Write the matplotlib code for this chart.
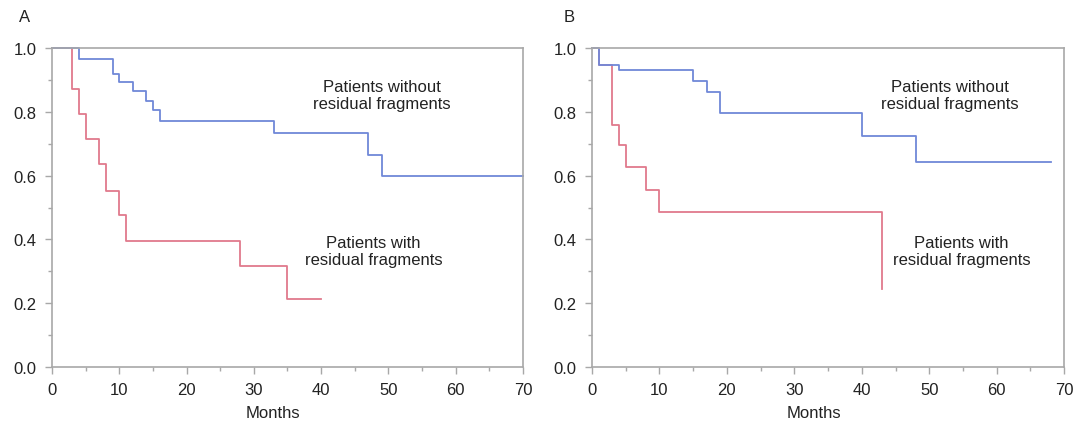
import matplotlib
matplotlib.use("Agg")
import matplotlib.pyplot as plt
from matplotlib.ticker import MultipleLocator

plt.rcParams["font.family"] = ["Liberation Sans", "DejaVu Sans"]

# panel A - Kaplan-Meier estimates
a_without_t = [0, 4, 9, 10, 12, 14, 15, 16, 33, 47, 49, 70]
a_without_s = [1.0, 0.966, 0.918, 0.892, 0.866, 0.835, 0.805, 0.772, 0.733, 0.665, 0.600, 0.600]
a_with_t = [0, 3, 4, 5, 7, 8, 10, 11, 28, 35, 40]
a_with_s = [1.0, 0.873, 0.793, 0.715, 0.637, 0.553, 0.476, 0.395, 0.318, 0.213, 0.213]

# panel B
b_without_t = [0, 1, 4, 15, 17, 19, 40, 48, 68]
b_without_s = [1.0, 0.947, 0.930, 0.897, 0.861, 0.795, 0.724, 0.644, 0.644]
b_with_t = [0, 1, 3, 4, 5, 8, 10, 43]
b_with_s = [1.0, 0.947, 0.759, 0.697, 0.626, 0.556, 0.486, 0.245]

BLUE = "#7088d8"
RED = "#e07a8c"
GRAY = "#a8a8a8"
TXT = "#222222"

fig = plt.figure(figsize=(10.79, 4.27), dpi=100)
axA = fig.add_axes([0.0482, 0.1382, 0.4365, 0.747])
axB = fig.add_axes([0.5487, 0.1382, 0.4375, 0.747])


def style_axis(ax):
    ax.set_xlim(0, 70)
    ax.set_ylim(0, 1.0)
    ax.xaxis.set_major_locator(MultipleLocator(10))
    ax.xaxis.set_minor_locator(MultipleLocator(5))
    ax.yaxis.set_major_locator(MultipleLocator(0.2))
    ax.yaxis.set_minor_locator(MultipleLocator(0.1))
    ax.yaxis.set_major_formatter(matplotlib.ticker.FormatStrFormatter("%.1f"))
    for sp in ax.spines.values():
        sp.set_color(GRAY)
        sp.set_linewidth(1.2)
    ax.tick_params(which="major", length=5, width=1, color=GRAY,
                   labelsize=12, labelcolor=TXT, pad=6)
    ax.tick_params(which="minor", length=3, width=1, color=GRAY)
    ax.set_xlabel("Months", fontsize=12, color=TXT)
    ax.xaxis.set_label_coords(0.47, -0.12)


for ax, t1, s1, t2, s2, pos_wo, pos_w, tag in [
    (axA, a_with_t, a_with_s, a_without_t, a_without_s, (49, 0.853), (47.8, 0.364), "A"),
    (axB, b_with_t, b_with_s, b_without_t, b_without_s, (53, 0.853), (54.8, 0.364), "B"),
]:
    ax.step(t1, s1, where="post", color=RED, lw=1.3, clip_on=False)
    ax.step(t2, s2, where="post", color=BLUE, lw=1.3, clip_on=False)
    style_axis(ax)
    ax.text(*pos_wo, "Patients without\nresidual fragments", ha="center", va="center",
            fontsize=12, color=TXT)
    ax.text(*pos_w, "Patients with\nresidual fragments", ha="center", va="center",
            fontsize=12, color=TXT)

fig.text(25 / 1079, 1 - 18 / 427, "A", ha="center", va="center", fontsize=12, color=TXT)
fig.text(569 / 1079, 1 - 18 / 427, "B", ha="center", va="center", fontsize=12, color=TXT)

fig.savefig("out.png", dpi=100)
